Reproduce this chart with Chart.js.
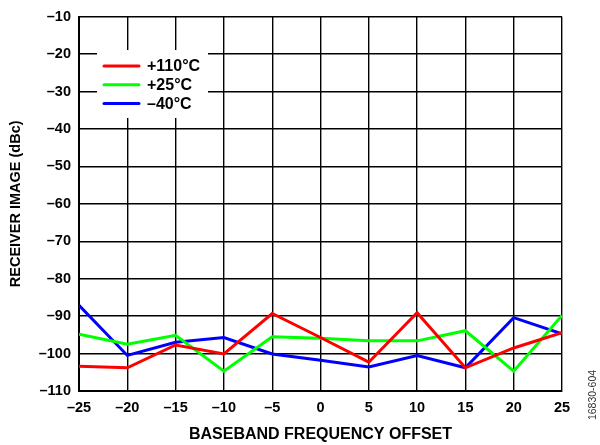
<!DOCTYPE html>
<html>
<head>
<meta charset="utf-8">
<script src="https://cdn.jsdelivr.net/npm/chart.js@4/dist/chart.umd.min.js"></script>
<style>
  html, body { margin: 0; padding: 0; background: #fff; }
  #wrap { width: 600px; height: 445px; }
</style>
</head>
<body>
<div id="wrap"><canvas id="chart" width="600" height="445"></canvas></div>
<script>
// Offsets (x axis)
const offsets = [-25, -20, -15, -10, -5, 0, 5, 10, 15, 20, 25];

// Receiver image (dBc) per temperature
const hot110 = [-103.4, -103.8, -97.7, -100.1, -89.3, -95.7, -102.3, -89.1, -103.8, -98.5, -94.4];
const room25 = [-94.8, -97.5, -95.1, -104.7, -95.5, -95.9, -96.6, -96.6, -93.9, -104.7, -89.8];
const cold40 = [-87.1, -100.5, -97.0, -95.7, -100.1, -101.8, -103.6, -100.5, -103.8, -90.4, -94.7];

const seriesLabels = ['+110°C', '+25°C', '\u201340°C'];
const seriesColors = ['#ff0000', '#00ff00', '#0000ff'];

const yMin = -110, yMax = -10, yStep = 10;
const xMin = -25, xMax = 25, xStep = 5;

const FONT = 'Liberation Sans, Arial, Helvetica, sans-serif';
const dash = v => (v < 0 ? '\u2013' + Math.abs(v) : String(v));

const toPoints = arr => arr.map((v, i) => ({ x: offsets[i], y: v }));

// legend box inside the plot, drawn under the lines
const insideLegend = {
  id: 'insideLegend',
  beforeDatasetsDraw(chart) {
    const ctx = chart.ctx;
    ctx.save();
    ctx.fillStyle = '#fff';
    ctx.fillRect(97, 50, 111, 68);
    ctx.font = 'bold 16px ' + FONT;
    ctx.textBaseline = 'middle';
    ctx.textAlign = 'left';
    chart.data.datasets.forEach((ds, i) => {
      const y = 66 + i * 18.8;
      ctx.strokeStyle = ds.borderColor;
      ctx.lineWidth = 3;
      ctx.lineCap = 'round';
      ctx.beginPath();
      ctx.moveTo(104, y);
      ctx.lineTo(139, y);
      ctx.stroke();
      ctx.fillStyle = '#000';
      ctx.fillText(ds.label, 147, y + 1);
    });
    ctx.restore();
  }
};

// figure number on the right edge
const sideNote = {
  id: 'sideNote',
  afterDraw(chart) {
    const ctx = chart.ctx;
    ctx.save();
    ctx.translate(593, 395);
    ctx.rotate(-Math.PI / 2);
    ctx.font = '10.5px ' + FONT;
    ctx.fillStyle = '#333';
    ctx.textAlign = 'center';
    ctx.textBaseline = 'middle';
    ctx.fillText('16830-604', 0, 0);
    ctx.restore();
  }
};

const datasets = [hot110, room25, cold40].map((arr, i) => ({
  label: seriesLabels[i],
  data: toPoints(arr),
  borderColor: seriesColors[i],
  backgroundColor: seriesColors[i],
  borderWidth: 3,
  pointRadius: 0,
  tension: 0,
  fill: false
}));

new Chart(document.getElementById('chart'), {
  type: 'line',
  data: { datasets },
  options: {
    responsive: false,
    animation: false,
    layout: { padding: { top: 11, right: 38, left: 0, bottom: 0 } },
    plugins: { legend: { display: false }, tooltip: { enabled: false } },
    scales: {
      x: {
        type: 'linear',
        min: xMin, max: xMax,
        afterFit: s => { s.height = 54; },
        ticks: {
          stepSize: xStep,
          padding: 8,
          color: '#000',
          font: { family: FONT, size: 14.5, weight: 'bold' },
          callback: v => dash(v)
        },
        grid: { color: '#000', lineWidth: 1.4, drawTicks: false },
        border: { color: '#000', width: 2 },
        title: {
          display: true,
          text: 'BASEBAND FREQUENCY OFFSET',
          color: '#000',
          font: { family: FONT, size: 16, weight: 'bold' },
          padding: { top: 2, bottom: 1 }
        }
      },
      y: {
        min: yMin, max: yMax,
        afterFit: s => { s.width = 79; },
        ticks: {
          stepSize: yStep,
          padding: 8,
          color: '#000',
          font: { family: FONT, size: 14.5, weight: 'bold' },
          callback: v => dash(v)
        },
        grid: { color: '#000', lineWidth: 1.4, drawTicks: false },
        border: { color: '#000', width: 2 },
        title: {
          display: true,
          text: 'RECEIVER IMAGE (dBc)',
          color: '#000',
          font: { family: FONT, size: 14.5, weight: 'bold' },
          padding: { top: 7, bottom: 0 }
        }
      }
    }
  },
  plugins: [insideLegend, sideNote]
});
</script>
</body>
</html>
